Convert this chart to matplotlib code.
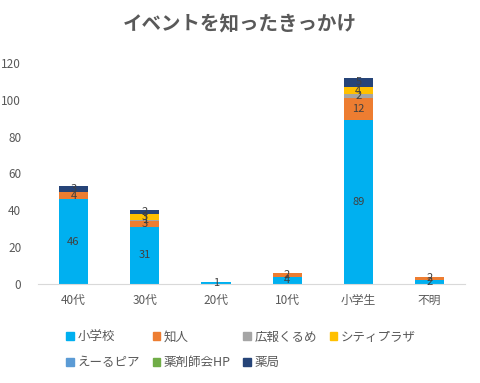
import numpy as np
import matplotlib.pyplot as plt
from matplotlib.patches import Patch

plt.rcParams['font.family'] = ['Noto Sans CJK JP', 'DejaVu Sans']

categories = ['40代', '30代', '20代', '10代', '小学生', '不明']
series_names = ['小学校', '知人', '広報くるめ', 'シティプラザ', 'えーるピア', '薬剤師会HP', '薬局']
shogakko = [46, 31, 1, 4, 89, 2]
chijin = [4, 3, 0, 2, 12, 2]
koho = [0, 1, 0, 0, 2, 0]
city = [0, 3, 0, 0, 4, 0]
eru = [0, 0, 0, 0, 0, 0]
yakuzai = [0, 0, 0, 0, 0, 0]
yakkyoku = [3, 2, 0, 0, 5, 0]
colors = ['#00B0F0', '#ED7D31', '#A5A5A5', '#FFC000', '#5B9BD5', '#70AD47', '#264478']

data = [shogakko, chijin, koho, city, eru, yakuzai, yakkyoku]

fig = plt.figure(figsize=[4.8, 3.83], dpi=100)
ax = fig.add_axes([0.079, 0.2585, 0.89, 0.577])

x = np.arange(len(categories))
bottom = np.zeros(len(categories))
for vals, col in zip(data, colors):
    vals = np.array(vals, dtype=float)
    ax.bar(x, vals, 0.41, bottom=bottom, color=col)
    for xi, v, b in zip(x, vals, bottom):
        if v > 0:
            ax.text(xi, b + v / 2, str(int(v)), ha='center', va='center',
                    fontsize=8, color='#404040')
    bottom += vals

ax.set_xlim(-0.5, len(categories) - 0.5)
ax.set_ylim(0, 120)
ax.set_yticks(range(0, 121, 20))
ax.set_xticks(x)
ax.set_xticklabels(categories)
for s in ['top', 'right', 'left']:
    ax.spines[s].set_visible(False)
ax.spines['bottom'].set_color('#D9D9D9')
ax.tick_params(axis='both', length=0, labelsize=8.5, colors='#595959')
ax.tick_params(axis='x', pad=7)
ax.tick_params(axis='y', pad=12)

fig.text(0.5, 0.935, 'イベントを知ったきっかけ', ha='center', va='center',
         fontsize=14, fontweight='bold', color='#595959')

# legend fills column-first, reorder so it reads row by row
order = [0, 4, 1, 5, 2, 6, 3]
handles = [Patch(color=colors[i]) for i in order]
labels = [series_names[i] for i in order]
fig.legend(handles, labels, ncol=4, loc='upper left',
           bbox_to_anchor=(0.128, 0.15), frameon=False, fontsize=9,
           handlelength=0.6, handleheight=0.6, handletextpad=0.3,
           columnspacing=1.0, labelcolor='#595959', borderaxespad=0,
           labelspacing=1.0)

fig.savefig('out.png', dpi=100)
